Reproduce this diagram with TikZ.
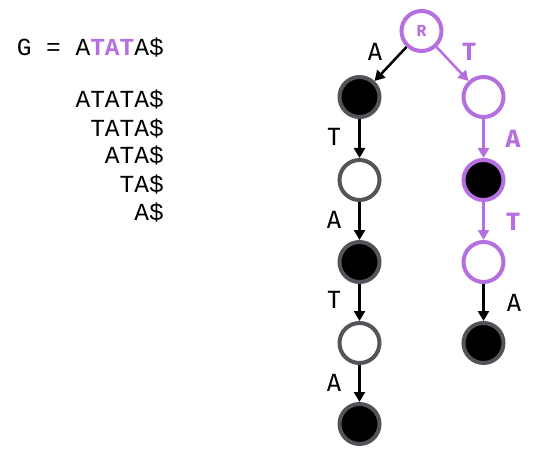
\documentclass[tikz,border=0pt]{standalone}
\usepackage{fontspec}
\setmainfont{Fira Sans}
\newfontfamily\monof{Liberation Mono}
\usetikzlibrary{arrows.meta}
\definecolor{vio}{HTML}{B56FE0}
\definecolor{rim}{HTML}{51555A}
\tikzset{
  vert/.style={circle,minimum size=40pt,inner sep=0pt,line width=4pt},
  full/.style={vert,draw=rim,fill=black},
  hollow/.style={vert,draw=rim,fill=white},
  vfull/.style={vert,draw=vio,fill=black},
  vhollow/.style={vert,draw=vio,fill=white},
  lab/.style={inner sep=0pt,font=\fontsize{25}{28}\selectfont},
  vlab/.style={lab,text=vio,font=\fontsize{25}{28}\selectfont\bfseries},
  seq/.style={inner sep=0pt,anchor=base east,font=\monof\fontsize{24.5}{28}\selectfont},
  arr/.style={line width=2.5pt,-{Triangle[length=10pt,width=11pt]}},
  varr/.style={arr,draw=vio,color=vio},
}
\begin{document}
\begin{tikzpicture}[x=1pt,y=-1pt]
\useasboundingbox (0,0) rectangle (538,468);
% sequences
\node[seq] (g) at (164,56) {G = A\textcolor{vio}{\bfseries TAT}A\$};
\node[seq] (s1) at (164,108) {ATATA\$};
\node[seq] (s2) at (164,136) {TATA\$};
\node[seq] (s3) at (164,164) {ATA\$};
\node[seq] (s4) at (164,192) {TA\$};
\node[seq] (s5) at (164,220) {A\$};
% tree
\node[vhollow,text=vio,font=\fontsize{16}{18}\selectfont\bfseries] (r) at (421.5,31) {R};
\node[full] (l1) at (359.5,97) {};
\node[hollow] (l2) at (359.5,180) {};
\node[full] (l3) at (359.5,262) {};
\node[hollow] (l4) at (359.5,343) {};
\node[full] (l5) at (359.5,424) {};
\node[vhollow] (q1) at (483.5,97) {};
\node[vfull] (q2) at (483.5,180) {};
\node[vhollow] (q3) at (483.5,262) {};
\node[full] (q4) at (483.5,343) {};
\draw[arr] (r) -- (l1);
\draw[arr] (l1) -- (l2);
\draw[arr] (l2) -- (l3);
\draw[arr] (l3) -- (l4);
\draw[arr] (l4) -- (l5);
\draw[varr] (r) -- (q1);
\draw[varr] (q1) -- (q2);
\draw[varr] (q2) -- (q3);
\draw[arr] (q3) -- (q4);
% labels
\node[lab] (a1) at (375,52) {A};
\node[lab] (a2) at (334,137) {T};
\node[lab] (a3) at (334,220) {A};
\node[lab] (a4) at (334,300) {T};
\node[lab] (a5) at (334,383) {A};
\node[vlab] (b1) at (469,52) {T};
\node[vlab] (b2) at (513,139) {A};
\node[vlab] (b3) at (513,222) {T};
\node[lab] (b4) at (514,303) {A};
\end{tikzpicture}
\end{document}
